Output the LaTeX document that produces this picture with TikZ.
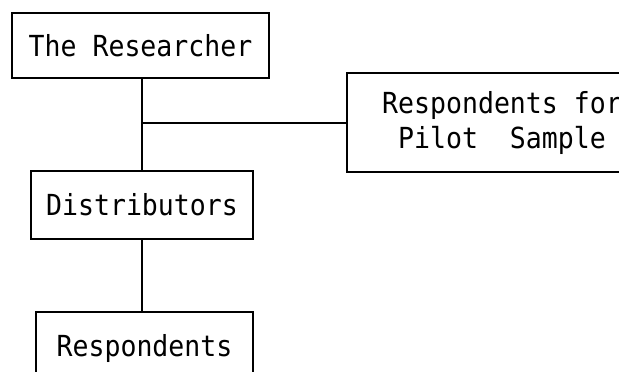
\documentclass[tikz,border=0pt]{standalone}
\usepackage{fontspec}
\newfontfamily\typewfont[FakeStretch=0.915]{DejaVu Sans Mono}
\begin{document}
\begin{tikzpicture}[x=1pt,y=-1pt,
  boxnode/.style={draw, line width=2pt, inner sep=0pt, align=center,
    font=\typewfont\fontsize{29}{35}\selectfont},
  link/.style={line width=2pt}]
\useasboundingbox (0,0) rectangle (619,372);
\clip (0,0) rectangle (619,372);
\fill[white] (0,0) rectangle (619,372);

% boxes
\node[boxnode, minimum width=257pt, minimum height=65pt] (res) at (140.5,45.5) {The Researcher};
\node[boxnode, minimum width=222pt, minimum height=68pt] (dist) at (142,205) {Distributors};
\node[boxnode, minimum width=217pt, minimum height=72pt] (resp) at (144.5,348) {Respondents};
\node[boxnode, minimum width=310pt, minimum height=99pt] (pilot) at (502,122.5) {Respondents for\\Pilot~~Sample};

% connectors
\coordinate (j) at (dist.north |- pilot.west);
\draw[link] (res.south -| dist.north) -- (dist.north);
\draw[link] (j) -- (pilot.west);
\draw[link] (dist.south) -- (dist.south |- resp.north);
\end{tikzpicture}
\end{document}
